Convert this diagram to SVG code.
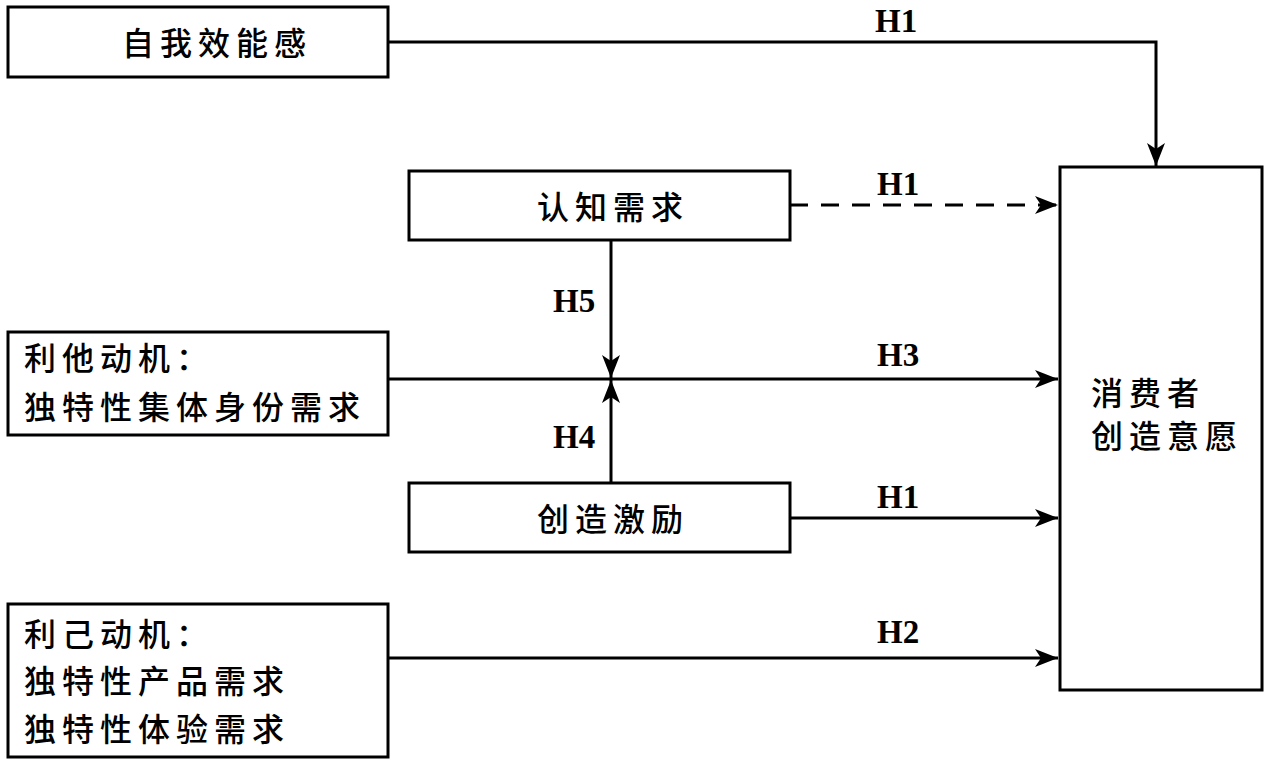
<svg xmlns="http://www.w3.org/2000/svg" width="1269" height="767" viewBox="0 0 1269 767">
<style>
.box{fill:#fff;stroke:#000;stroke-width:3}
.cn{font-family:"Noto Sans CJK SC","Noto Sans",sans-serif;font-size:32px;font-weight:500;letter-spacing:6px;fill:#000}
.lb{font-family:"Liberation Serif","Times New Roman",serif;font-size:33px;font-weight:bold;fill:#000}
.ln{fill:none;stroke:#000;stroke-width:3}
.dash{stroke-dasharray:18 13}
</style>
<defs>
<marker id="ah" markerUnits="userSpaceOnUse" markerWidth="24" markerHeight="20" viewBox="0 0 24 20" refX="23" refY="10" orient="auto">
<path d="M0,1 L23,10 L0,19 L6,10 z" fill="#000"/>
</marker>
</defs>
<rect width="1269" height="767" fill="#fff"/>
<g id="connectors">
<polyline class="ln" points="388,42 1156,42 1156,166" marker-end="url(#ah)"/>
<line class="ln dash" x1="790" y1="205" x2="1058" y2="205" marker-end="url(#ah)"/>
<line class="ln" x1="388" y1="379" x2="1058" y2="379" marker-end="url(#ah)"/>
<line class="ln" x1="790" y1="518" x2="1058" y2="518" marker-end="url(#ah)"/>
<line class="ln" x1="388" y1="658" x2="1058" y2="658" marker-end="url(#ah)"/>
<line class="ln" x1="611" y1="240" x2="611" y2="378" marker-end="url(#ah)"/>
<line class="ln" x1="611" y1="483" x2="611" y2="380" marker-end="url(#ah)"/>
<text class="lb" x="875" y="32">H1</text>
<text class="lb" x="877" y="195">H1</text>
<text class="lb" x="553" y="312">H5</text>
<text class="lb" x="877" y="366">H3</text>
<text class="lb" x="553" y="448">H4</text>
<text class="lb" x="877" y="508">H1</text>
<text class="lb" x="877" y="643">H2</text>
</g>
<g id="n_self">
<rect class="box" x="8" y="7" width="380" height="70"/>
<text class="cn" x="122" y="55">自我效能感</text>
</g>
<g id="n_cog">
<rect class="box" x="409" y="171" width="381" height="69"/>
<text class="cn" x="537" y="219">认知需求</text>
</g>
<g id="n_alt">
<rect class="box" x="8" y="332" width="380" height="103"/>
<text class="cn" x="24" y="370">利他动机：</text>
<text class="cn" x="24" y="419">独特性集体身份需求</text>
</g>
<g id="n_inc">
<rect class="box" x="409" y="483" width="381" height="69"/>
<text class="cn" x="537" y="531">创造激励</text>
</g>
<g id="n_ego">
<rect class="box" x="8" y="604" width="380" height="153"/>
<text class="cn" x="24" y="646">利己动机：</text>
<text class="cn" x="24" y="693">独特性产品需求</text>
<text class="cn" x="24" y="741">独特性体验需求</text>
</g>
<g id="n_cons">
<rect class="box" x="1060" y="167" width="202" height="523"/>
<text class="cn" x="1091" y="405">消费者</text>
<text class="cn" x="1091" y="448">创造意愿</text>
</g>
</svg>
